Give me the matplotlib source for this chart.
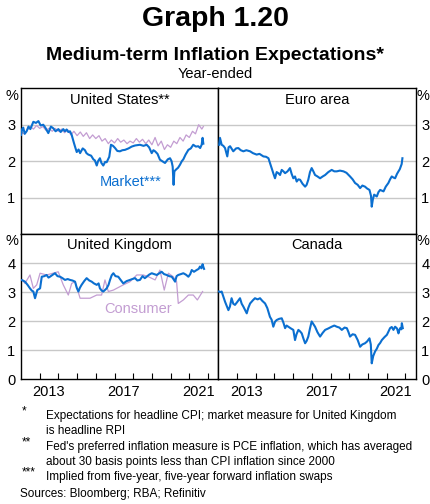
import numpy as np
import matplotlib
matplotlib.use("Agg")
import matplotlib.pyplot as plt

plt.rcParams['font.family'] = ['Liberation Sans', 'DejaVu Sans']

# ---- data (decimal years, per cent) ----
us_mkt_x = [2012.00, 2012.06, 2012.12, 2012.20, 2012.30, 2012.40, 2012.50, 2012.66, 2012.80, 2012.93,
            2013.05, 2013.19, 2013.30, 2013.46, 2013.60, 2013.73, 2013.85, 2014.00, 2014.12, 2014.26,
            2014.35, 2014.44, 2014.53, 2014.62, 2014.71, 2014.83, 2014.90, 2014.98, 2015.08, 2015.16,
            2015.30, 2015.42, 2015.50, 2015.60, 2015.75, 2015.87, 2015.95, 2016.05, 2016.12, 2016.22,
            2016.30, 2016.40, 2016.50, 2016.58, 2016.72, 2016.81, 2016.92, 2017.03, 2017.15, 2017.29,
            2017.42, 2017.56, 2017.75, 2017.92, 2018.10, 2018.36, 2018.55, 2018.72, 2018.85, 2018.99,
            2019.08, 2019.17, 2019.30, 2019.43, 2019.55, 2019.70, 2019.85, 2019.97, 2020.05, 2020.11,
            2020.16, 2020.20, 2020.29, 2020.40, 2020.50, 2020.60, 2020.68, 2020.80, 2020.95, 2021.08,
            2021.21, 2021.35, 2021.48, 2021.58, 2021.66, 2021.71, 2021.75]
us_mkt_y = [2.72, 2.88, 2.92, 2.75, 2.82, 2.95, 2.88, 3.08, 3.05, 3.10,
            2.98, 3.00, 2.92, 2.77, 2.95, 2.90, 2.82, 2.88, 2.80, 2.88,
            2.82, 2.87, 2.80, 2.82, 2.72, 2.50, 2.38, 2.25, 2.32, 2.22,
            2.35, 2.30, 2.22, 2.18, 2.15, 2.05, 2.02, 1.88, 2.00, 2.08,
            1.95, 1.88, 1.98, 1.97, 2.12, 2.45, 2.42, 2.36, 2.28, 2.27,
            2.30, 2.31, 2.35, 2.40, 2.43, 2.45, 2.42, 2.45, 2.38, 2.22,
            2.30, 2.27, 2.20, 2.04, 2.00, 1.95, 2.05, 2.08, 2.00, 1.85,
            1.35, 1.72, 1.77, 1.82, 1.90, 2.00, 2.05, 2.18, 2.31, 2.35,
            2.45, 2.40, 2.41, 2.36, 2.45, 2.64, 2.48]

us_con_x = [2012.00, 2012.17, 2012.33, 2012.50, 2012.67, 2012.83, 2013.00, 2013.17, 2013.33, 2013.50,
            2013.67, 2013.83, 2014.00, 2014.17, 2014.33, 2014.50, 2014.67, 2014.83, 2015.00, 2015.17,
            2015.33, 2015.50, 2015.67, 2015.83, 2016.00, 2016.17, 2016.33, 2016.50, 2016.67, 2016.83,
            2017.00, 2017.17, 2017.33, 2017.50, 2017.67, 2017.83, 2018.00, 2018.17, 2018.33, 2018.50,
            2018.67, 2018.83, 2019.00, 2019.17, 2019.33, 2019.50, 2019.67, 2019.83, 2020.00, 2020.17,
            2020.33, 2020.50, 2020.67, 2020.83, 2021.00, 2021.17, 2021.33, 2021.50, 2021.67, 2021.75]
us_con_y = [2.80, 2.75, 2.85, 2.95, 2.88, 2.98, 2.90, 2.95, 2.85, 2.90,
            2.82, 2.90, 2.82, 2.88, 2.78, 2.86, 2.72, 2.82, 2.70, 2.80,
            2.68, 2.78, 2.62, 2.72, 2.62, 2.70, 2.55, 2.62, 2.48, 2.58,
            2.50, 2.62, 2.52, 2.58, 2.48, 2.55, 2.50, 2.62, 2.52, 2.60,
            2.48, 2.58, 2.45, 2.65, 2.42, 2.55, 2.32, 2.45, 2.38, 2.55,
            2.48, 2.65, 2.55, 2.72, 2.65, 2.82, 2.75, 3.00, 2.88, 2.95]

ea_x = [2012.05, 2012.09, 2012.18, 2012.27, 2012.36, 2012.48, 2012.55, 2012.63, 2012.80, 2012.95,
        2013.07, 2013.20, 2013.34, 2013.50, 2013.70, 2013.85, 2014.05, 2014.20, 2014.41, 2014.55,
        2014.68, 2014.78, 2014.85, 2014.95, 2015.03, 2015.12, 2015.21, 2015.30, 2015.39, 2015.48,
        2015.57, 2015.70, 2015.83, 2015.92, 2016.01, 2016.10, 2016.19, 2016.28, 2016.37, 2016.50,
        2016.64, 2016.72, 2016.81, 2016.90, 2016.99, 2017.08, 2017.17, 2017.30, 2017.44, 2017.58,
        2017.71, 2017.88, 2018.06, 2018.20, 2018.33, 2018.50, 2018.69, 2018.85, 2019.04, 2019.18,
        2019.31, 2019.45, 2019.58, 2019.70, 2019.84, 2019.95, 2020.08, 2020.16, 2020.20, 2020.26,
        2020.33, 2020.47, 2020.56, 2020.65, 2020.83, 2020.95, 2021.09, 2021.18, 2021.27, 2021.36,
        2021.45, 2021.55, 2021.63, 2021.70, 2021.75, 2021.80, 2021.84]
ea_y = [2.45, 2.64, 2.45, 2.42, 2.36, 2.13, 2.38, 2.41, 2.27, 2.35,
        2.36, 2.30, 2.27, 2.30, 2.27, 2.22, 2.18, 2.20, 2.13, 2.12,
        2.08, 1.92, 1.81, 1.65, 1.53, 1.70, 1.67, 1.62, 1.76, 1.72,
        1.67, 1.72, 1.81, 1.65, 1.53, 1.58, 1.44, 1.50, 1.49, 1.38,
        1.30, 1.35, 1.49, 1.70, 1.81, 1.72, 1.62, 1.58, 1.53, 1.58,
        1.62, 1.70, 1.76, 1.72, 1.72, 1.74, 1.72, 1.68, 1.58, 1.50,
        1.40, 1.35, 1.26, 1.33, 1.30, 1.25, 1.21, 1.05, 0.75, 0.95,
        1.08, 1.03, 1.15, 1.21, 1.17, 1.30, 1.40, 1.50, 1.58, 1.55,
        1.53, 1.65, 1.72, 1.78, 1.85, 1.92, 2.08]

uk_mkt_x = [2012.00, 2012.10, 2012.21, 2012.35, 2012.48, 2012.58, 2012.66, 2012.75, 2012.87, 2013.02,
            2013.11, 2013.25, 2013.37, 2013.47, 2013.55, 2013.70, 2013.82, 2013.95, 2014.09, 2014.22,
            2014.35, 2014.50, 2014.62, 2014.75, 2014.89, 2014.98, 2015.07, 2015.15, 2015.24, 2015.38,
            2015.51, 2015.65, 2015.78, 2015.90, 2016.05, 2016.15, 2016.22, 2016.32, 2016.40, 2016.50,
            2016.58, 2016.68, 2016.76, 2016.85, 2016.94, 2017.05, 2017.20, 2017.35, 2017.47, 2017.65,
            2017.83, 2017.95, 2018.10, 2018.22, 2018.36, 2018.50, 2018.62, 2018.72, 2018.85, 2018.99,
            2019.12, 2019.26, 2019.40, 2019.52, 2019.65, 2019.79, 2019.92, 2020.06, 2020.15, 2020.24,
            2020.32, 2020.41, 2020.55, 2020.68, 2020.82, 2020.95, 2021.05, 2021.13, 2021.25, 2021.39,
            2021.50, 2021.57, 2021.65, 2021.71, 2021.76, 2021.79]
uk_mkt_y = [3.42, 3.40, 3.36, 3.25, 3.13, 3.05, 3.02, 2.79, 3.07, 3.13,
            3.53, 3.55, 3.59, 3.50, 3.53, 3.60, 3.65, 3.55, 3.53, 3.48,
            3.42, 3.45, 3.42, 3.40, 3.36, 3.15, 3.02, 3.15, 3.25, 3.38,
            3.48, 3.40, 3.36, 3.30, 3.25, 3.30, 3.13, 3.05, 3.02, 3.08,
            3.13, 3.25, 3.42, 3.58, 3.65, 3.55, 3.53, 3.40, 3.30, 3.38,
            3.42, 3.45, 3.48, 3.40, 3.42, 3.55, 3.48, 3.53, 3.60, 3.65,
            3.62, 3.59, 3.65, 3.70, 3.62, 3.59, 3.55, 3.53, 3.45, 3.36,
            3.55, 3.59, 3.62, 3.65, 3.60, 3.53, 3.62, 3.76, 3.70, 3.76,
            3.80, 3.88, 3.82, 3.96, 3.85, 3.80]

uk_con_x = [2012.00, 2012.21, 2012.48, 2012.66, 2012.84, 2013.02, 2013.37, 2013.99, 2014.26, 2014.53,
            2014.71, 2014.89, 2015.16, 2015.69, 2016.05, 2016.31, 2016.49, 2016.67, 2016.94, 2017.47,
            2017.83, 2018.19, 2018.54, 2018.81, 2019.17, 2019.43, 2019.66, 2019.88, 2020.14, 2020.32,
            2020.41, 2020.68, 2020.95, 2021.21, 2021.43, 2021.71]
uk_con_y = [3.48, 3.30, 3.59, 3.13, 3.25, 3.65, 3.59, 3.70, 3.25, 2.90,
            3.30, 3.36, 2.79, 2.79, 2.90, 2.90, 3.42, 3.02, 3.07, 3.25,
            3.36, 3.59, 3.59, 3.53, 3.42, 3.76, 3.07, 3.65, 3.53, 3.36,
            2.61, 2.73, 2.90, 2.90, 2.73, 3.02]

ca_x = [2012.04, 2012.10, 2012.18, 2012.36, 2012.54, 2012.62, 2012.71, 2012.80, 2012.89, 2013.00,
        2013.16, 2013.25, 2013.34, 2013.52, 2013.60, 2013.70, 2013.85, 2013.96, 2014.10, 2014.23,
        2014.35, 2014.50, 2014.62, 2014.76, 2014.85, 2014.94, 2015.03, 2015.12, 2015.25, 2015.39,
        2015.48, 2015.57, 2015.65, 2015.74, 2015.88, 2016.01, 2016.10, 2016.18, 2016.28, 2016.37,
        2016.46, 2016.55, 2016.64, 2016.72, 2016.81, 2016.90, 2016.99, 2017.08, 2017.17, 2017.30,
        2017.44, 2017.58, 2017.71, 2017.88, 2018.06, 2018.20, 2018.33, 2018.47, 2018.60, 2018.75,
        2018.87, 2018.96, 2019.04, 2019.18, 2019.31, 2019.45, 2019.58, 2019.70, 2019.84, 2019.95,
        2020.08, 2020.15, 2020.20, 2020.28, 2020.38, 2020.47, 2020.56, 2020.65, 2020.74, 2020.88,
        2021.01, 2021.10, 2021.18, 2021.27, 2021.36, 2021.45, 2021.55, 2021.63, 2021.68, 2021.72,
        2021.78, 2021.81, 2021.86]
ca_y = [3.02, 3.00, 3.02, 2.67, 2.38, 2.50, 2.79, 2.60, 2.56, 2.65,
        2.79, 2.60, 2.50, 2.27, 2.45, 2.61, 2.72, 2.79, 2.75, 2.79,
        2.70, 2.61, 2.45, 2.15, 2.05, 1.81, 1.98, 2.04, 2.08, 2.10,
        1.95, 1.76, 1.85, 1.81, 1.75, 1.70, 1.35, 1.55, 1.70, 1.65,
        1.58, 1.40, 1.24, 1.32, 1.47, 1.75, 1.99, 1.90, 1.81, 1.62,
        1.47, 1.60, 1.70, 1.75, 1.81, 1.85, 1.81, 1.78, 1.70, 1.78,
        1.76, 1.62, 1.47, 1.55, 1.53, 1.35, 1.12, 1.20, 1.24, 1.30,
        1.41, 1.20, 0.55, 0.80, 0.96, 1.05, 1.18, 1.25, 1.35, 1.45,
        1.53, 1.65, 1.76, 1.80, 1.70, 1.81, 1.75, 1.58, 1.70, 1.76,
        1.72, 1.93, 1.76]

year_ticks = [2013, 2014, 2015, 2016, 2017, 2018, 2019, 2020, 2021, 2022]
year_labels = ["2013", "2017", "2021"]

blue = "#0b6fd0"
purple = "#c39dd2"
grid_col = "#c8c8c8"

W, H = 430, 504
fig = plt.figure(figsize=(W / 100, H / 100), dpi=100)

L, M, R = 21 / W, 218.3 / W, 415.7 / W
T, C, B = 1 - 88.3 / H, 1 - 234 / H, 1 - 379.3 / H

ax_us = fig.add_axes([L, C, M - L, T - C])
ax_ea = fig.add_axes([M, C, R - M, T - C])
ax_uk = fig.add_axes([L, B, M - L, C - B])
ax_ca = fig.add_axes([M, B, R - M, C - B])


def style(ax, top, right):
    ax.set_xlim(2012.0, 2022.55)
    if top:
        ax.set_ylim(0, 4)
        ax.set_yticks([1, 2, 3])
    else:
        ax.set_ylim(0, 5)
        ax.set_yticks([0, 1, 2, 3, 4])
    for v in ax.get_yticks():
        if v > 0:
            ax.axhline(v, color=grid_col, lw=1.0, zorder=1)
    for s in ax.spines.values():
        s.set_color("black")
        s.set_linewidth(1.0)
    if right:
        ax.yaxis.tick_right()
    ax.tick_params(axis="y", length=0, labelsize=10.5, pad=4)
    if top:
        ax.set_xticks([])
    else:
        ax.set_xticks([y + 0.5 for y in [2013, 2017, 2021]])
        ax.set_xticklabels(year_labels)
        ax.set_xticks(year_ticks, minor=True)
        ax.tick_params(axis="x", which="major", length=0, labelsize=10.5, pad=4)
        ax.tick_params(axis="x", which="minor", direction="in", length=4, width=0.8)


style(ax_us, True, False)
style(ax_ea, True, True)
style(ax_uk, False, False)
style(ax_ca, False, True)

ax_us.plot(us_con_x, us_con_y, color=purple, lw=0.9, zorder=2)
ax_us.plot(us_mkt_x, us_mkt_y, color=blue, lw=1.5, zorder=3)
ax_ea.plot(ea_x, ea_y, color=blue, lw=1.5, zorder=3)
ax_uk.plot(uk_con_x, uk_con_y, color=purple, lw=0.9, zorder=2)
ax_uk.plot(uk_mkt_x, uk_mkt_y, color=blue, lw=1.5, zorder=3)
ax_ca.plot(ca_x, ca_y, color=blue, lw=1.5, zorder=3)

for ax, name in [(ax_us, "United States**"), (ax_ea, "Euro area"),
                 (ax_uk, "United Kingdom"), (ax_ca, "Canada")]:
    ax.text(0.5, 0.97, name, transform=ax.transAxes, ha="center", va="top", fontsize=10.5)

ax_us.text(2017.88, 1.43, "Market***", color=blue, ha="center", va="center", fontsize=10.5)
ax_uk.text(2018.26, 2.42, "Consumer", color=purple, ha="center", va="center", fontsize=10.5)


def ftext(x, y, s, **kw):
    fig.text(x / W, 1 - y / H, s, **kw)


for y in [96, 241]:
    ftext(12, y, "%", ha="center", va="center", fontsize=10.5)
    ftext(423, y, "%", ha="center", va="center", fontsize=10.5)

ftext(W / 2, 19, "Graph 1.20", ha="center", va="center", fontsize=20.5, fontweight="bold")
ftext(W / 2, 55, "Medium-term Inflation Expectations*", ha="center", va="center",
      fontsize=14, fontweight="bold")
ftext(W / 2, 74, "Year-ended", ha="center", va="center", fontsize=10.5)

note_lines = [
    ("*", "Expectations for headline CPI; market measure for United Kingdom", 416),
    ("", "is headline RPI", 430.5),
    ("**", "Fed's preferred inflation measure is PCE inflation, which has averaged", 447),
    ("", "about 30 basis points less than CPI inflation since 2000", 461.5),
    ("***", "Implied from five-year, five-year forward inflation swaps", 477),
]
for star, txt, y in note_lines:
    if star:
        ftext(22, y - 5, star, ha="left", va="center", fontsize=8.5)
    ftext(46, y, txt, ha="left", va="center", fontsize=8.5)
ftext(20, 494, "Sources: Bloomberg; RBA; Refinitiv", ha="left", va="center", fontsize=8.5)

fig.savefig("out.png", dpi=100)
